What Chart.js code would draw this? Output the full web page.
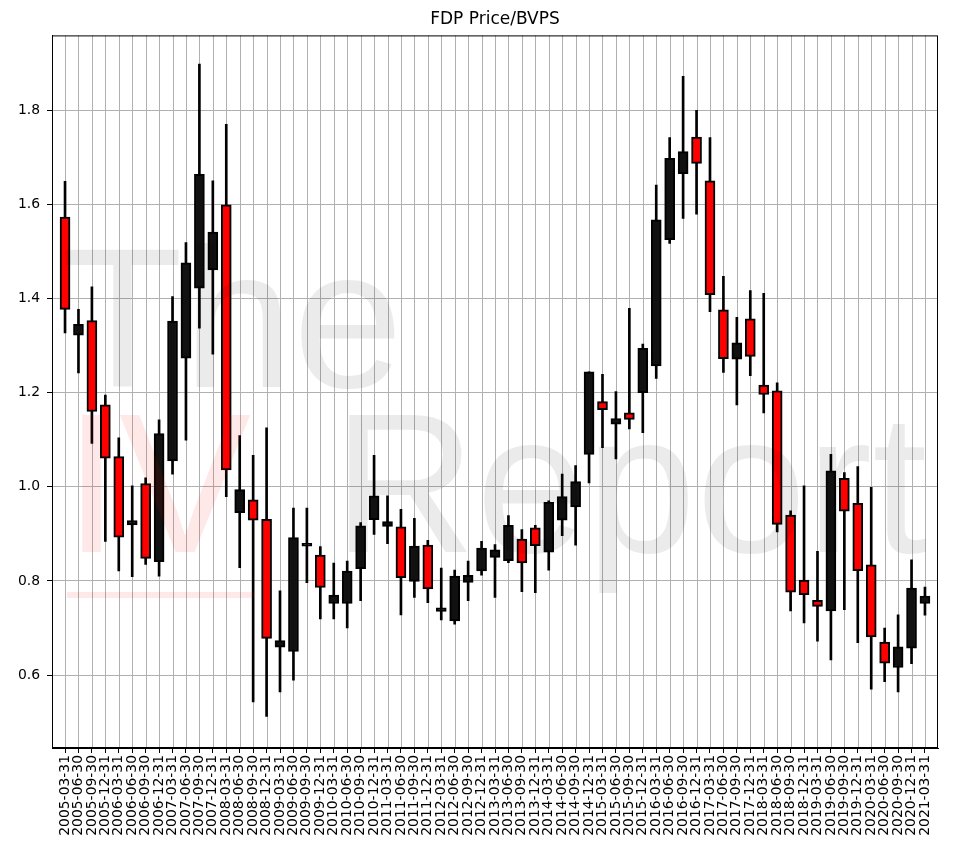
<!DOCTYPE html>
<html>
<head>
<meta charset="utf-8">
<script src="https://cdn.jsdelivr.net/npm/chart.js@4.4.1/dist/chart.umd.min.js"></script>
<style>
  body { margin: 0; background: #fff; }
  #wrap { width: 967px; height: 848px; }
</style>
</head>
<body>
<div id="wrap"><canvas id="chart" width="967" height="848"></canvas></div>
<script>
// quarter labels
var quarters = [
  '2005-03-31','2005-06-30','2005-09-30','2005-12-31',
  '2006-03-31','2006-06-30','2006-09-30','2006-12-31',
  '2007-03-31','2007-06-30','2007-09-30','2007-12-31',
  '2008-03-31','2008-06-30','2008-09-30','2008-12-31',
  '2009-03-31','2009-06-30','2009-09-30','2009-12-31',
  '2010-03-31','2010-06-30','2010-09-30','2010-12-31',
  '2011-03-31','2011-06-30','2011-09-30','2011-12-31',
  '2012-03-31','2012-06-30','2012-09-30','2012-12-31',
  '2013-03-31','2013-06-30','2013-09-30','2013-12-31',
  '2014-03-31','2014-06-30','2014-09-30','2014-12-31',
  '2015-03-31','2015-06-30','2015-09-30','2015-12-31',
  '2016-03-31','2016-06-30','2016-09-30','2016-12-31',
  '2017-03-31','2017-06-30','2017-09-30','2017-12-31',
  '2018-03-31','2018-06-30','2018-09-30','2018-12-31',
  '2019-03-31','2019-06-30','2019-09-30','2019-12-31',
  '2020-03-31','2020-06-30','2020-09-30','2020-12-31',
  '2021-03-31'
];

// price / bvps per quarter
var openVals = [
  1.573,1.322,1.353,1.174, 1.064,0.919,1.007,0.841, 1.055,1.273,1.422,1.461,
  1.599,0.945,0.972,0.931, 0.659,0.650,0.874,0.855, 0.752,0.752,0.826,0.930,
  0.916,0.915,0.799,0.876, 0.735,0.715,0.797,0.821, 0.850,0.843,0.889,0.913,
  0.861,0.929,0.957,1.069, 1.181,1.133,1.157,1.200, 1.257,1.525,1.665,1.743,
  1.650,1.376,1.271,1.357, 1.216,1.204,0.940,0.802, 0.759,0.736,1.018,0.965,
  0.834,0.670,0.616,0.657, 0.752
];
var highVals = [
  1.649,1.377,1.425,1.195, 1.104,1.002,1.019,1.142, 1.404,1.519,1.898,1.650,
  1.770,1.109,1.067,1.125, 0.779,0.955,0.955,0.873, 0.838,0.842,0.924,1.067,
  0.981,0.952,0.933,0.886, 0.827,0.823,0.842,0.884, 0.877,0.939,0.909,0.918,
  0.970,1.027,1.045,1.244, 1.239,1.202,1.379,1.303, 1.641,1.742,1.872,1.800,
  1.742,1.447,1.360,1.417, 1.411,1.221,0.949,1.002, 0.863,1.069,1.030,1.043,
  0.999,0.700,0.728,0.845, 0.787
];
var lowVals = [
  1.327,1.242,1.092,0.884, 0.821,0.809,0.835,0.810, 1.027,1.099,1.337,1.282,
  0.979,0.828,0.543,0.512, 0.564,0.589,0.796,0.719, 0.719,0.700,0.758,0.899,
  0.879,0.728,0.765,0.754, 0.717,0.708,0.758,0.812, 0.765,0.839,0.777,0.775,
  0.823,0.896,0.876,1.008, 1.083,1.059,1.123,1.115, 1.230,1.517,1.570,1.579,
  1.372,1.243,1.174,1.236, 1.157,0.904,0.736,0.711, 0.672,0.632,0.739,0.669,
  0.570,0.586,0.564,0.624, 0.727
];
var closeVals = [
  1.377,1.345,1.160,1.061, 0.893,0.928,0.848,1.113, 1.352,1.476,1.664,1.541,
  1.036,0.994,0.929,0.678, 0.673,0.892,0.880,0.786, 0.770,0.821,0.917,0.981,
  0.926,0.807,0.874,0.783, 0.743,0.810,0.812,0.870, 0.866,0.918,0.838,0.875,
  0.967,0.979,1.011,1.244, 1.164,1.145,1.143,1.294, 1.567,1.698,1.712,1.687,
  1.408,1.272,1.306,1.277, 1.196,0.920,0.776,0.771, 0.746,1.034,0.948,0.822,
  0.681,0.625,0.660,0.785, 0.768
];

var yTicks = [0.6, 0.8, 1.0, 1.2, 1.4, 1.6, 1.8];

var bodies = [], wicks = [], bodyColors = [];
for (var i = 0; i < quarters.length; i++) {
    bodies.push({ x: i, y: [openVals[i], closeVals[i]] });
    wicks.push({ x: i, y: [lowVals[i], highVals[i]] });
    bodyColors.push(closeVals[i] < openVals[i] ? '#ff0000' : '#111111');
}

// vertical grid, one line per quarter, drawn under the candles
var gridPlugin = {
    id: 'qgrid',
    beforeDatasetsDraw: function(chart) {
        var c = chart.ctx, a = chart.chartArea, xs = chart.scales.x;
        c.save();
        c.strokeStyle = '#b0b0b0';
        c.lineWidth = 1;
        c.beginPath();
        for (var i = 0; i < quarters.length; i++) {
            var px = Math.round(xs.getPixelForValue(i)) + 0.5;
            c.moveTo(px, a.top);
            c.lineTo(px, a.bottom);
        }
        c.stroke();
        c.restore();
    }
};

// frame around the plot + the watermark on top
var framePlugin = {
    id: 'frame',
    afterDraw: function(chart) {
        var c = chart.ctx, a = chart.chartArea;
        c.save();
        c.strokeStyle = '#000';
        c.lineWidth = 1;
        c.strokeRect(a.left + 0.5, a.top + 0.5, a.right - a.left - 1, a.bottom - a.top - 1);

        c.font = '198px "Liberation Sans"';
        c.textBaseline = 'alphabetic';
        c.fillStyle = 'rgba(0,0,0,0.08)';
        c.fillText('The', 62, 387);
        c.fillText('Report', 333, 552);
        c.fillStyle = 'rgba(255,0,0,0.09)';
        c.fillText('IV', 64, 552);
        c.fillRect(67, 592, 187, 6);
        c.restore();
    }
};

var ctx = document.getElementById('chart').getContext('2d');
var myChart = new Chart(ctx, {
    type: 'bar',
    data: {
        datasets: [{
            label: 'wick',
            data: wicks,
            backgroundColor: '#000',
            barThickness: 2,
            grouped: false,
            order: 2
        }, {
            label: 'body',
            data: bodies,
            backgroundColor: bodyColors,
            borderColor: '#000',
            borderWidth: 2,
            borderSkipped: false,
            barThickness: 10,
            grouped: false,
            order: 1
        }]
    },
    plugins: [gridPlugin, framePlugin],
    options: {
        responsive: false,
        animation: false,
        layout: { padding: { left: 0, right: 29, top: 0, bottom: 0 } },
        plugins: {
            legend: { display: false },
            tooltip: { enabled: false },
            title: {
                display: true,
                fullSize: false,   // centre over the plot area
                text: 'FDP Price/BVPS',
                color: '#000',
                font: { family: 'DejaVu Sans', size: 17, weight: 'normal' },
                padding: { top: 9, bottom: 6 }
            }
        },
        scales: {
            x: {
                type: 'linear',
                min: -0.97,
                max: 64.97,
                offset: false,
                afterBuildTicks: function(scale) {
                    scale.ticks = quarters.map(function(q, i) { return { value: i }; });
                },
                afterFit: function(scale) { scale.height = 100; },
                ticks: {
                    autoSkip: false,
                    minRotation: 90,
                    maxRotation: 90,
                    padding: 2,
                    color: '#000',
                    font: { family: 'DejaVu Sans', size: 13.9 },
                    callback: function(v) { return quarters[v]; }
                },
                grid: { offset: false, drawOnChartArea: false, tickColor: '#000', tickLength: 5 },
                border: { color: '#000', width: 1 }
            },
            y: {
                min: 0.445,
                max: 1.959,
                afterBuildTicks: function(scale) {
                    scale.ticks = yTicks.map(function(v) { return { value: v }; });
                },
                afterFit: function(scale) { scale.width = 52; },
                ticks: {
                    color: '#000',
                    padding: 7,
                    font: { family: 'DejaVu Sans', size: 13.9 },
                    callback: function(v) { return v.toFixed(1); }
                },
                grid: { color: '#b0b0b0', lineWidth: 1, tickColor: '#000', tickLength: 5 },
                border: { color: '#000', width: 1 }
            }
        }
    }
});
</script>
</body>
</html>
